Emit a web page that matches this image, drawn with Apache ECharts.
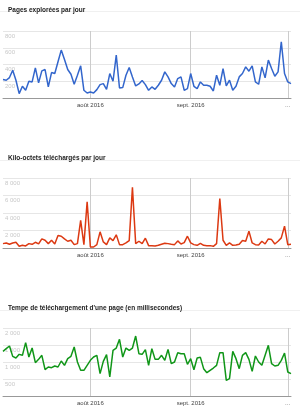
<!DOCTYPE html>
<html>
<head>
<meta charset="utf-8">
<script src="https://cdn.jsdelivr.net/npm/echarts@6/dist/echarts.min.js"></script>
<style>
  html, body { margin: 0; padding: 0; background: #fff; }
  #main { width: 300px; height: 417px; }
</style>
</head>
<body>
<div id="main"></div>
<script>
// daily points, 5 juil. 2016 -> 2 oct. 2016
const startDay = new Date(2016, 6, 5)
const days = []
for (let i = 0; i < 90; i++) {
  const d = new Date(startDay)
  d.setDate(d.getDate() + i)
  days.push(d.toISOString().slice(0, 10))
}

// month marks (index in days -> label)
const monthMarks = { 27: 'août 2016', 58: 'sept. 2016', 88: '…' }

const titles = [
  'Pages explorées par jour',
  'Kilo-octets téléchargés par jour',
  "Tempe de téléchargement d'une page (en millisecondes)"
]

const pagesPerDay = [
  220, 212, 244, 332, 212, 52, 140, 92, 200, 192, 360, 180, 324, 340, 132, 304,
  292, 432, 572, 460, 340, 284, 164, 272, 384, 92, 60, 72, 60, 100, 160, 172,
  104, 292, 200, 512, 120, 124, 272, 364, 252, 144, 168, 208, 160, 92,
  132, 104, 152, 212, 312, 252, 172, 132, 232, 252, 92, 112, 292, 140, 112, 192,
  152, 152, 140, 84, 272, 152, 352, 144, 212, 92, 140, 252, 292, 372, 320, 384,
  192, 164, 372, 240, 452, 352, 260, 312, 672, 292, 192, 172
]

const kbPerDay = [
  500, 578, 424, 578, 655, 193, 308, 231, 500, 424, 655, 462, 1040, 886, 500, 886,
  462, 1425, 1348, 1040, 770, 886, 385, 500, 3157, 385, 5275, 116, 116, 385, 1848, 693,
  385, 1155, 847, 1502, 385, 385, 578, 847, 6930, 500, 770, 500, 1117, 270,
  270, 231, 308, 424, 539, 500, 424, 385, 809, 462, 616, 1348, 578, 385, 308, 539,
  308, 270, 270, 193, 500, 5660, 886, 308, 578, 308, 347, 424, 847, 770, 1925, 578,
  385, 347, 770, 462, 1040, 963, 462, 770, 1155, 2503, 385, 424
]

const loadTimeMs = [
  1313, 1392, 1470, 1166, 1117, 1225, 1196, 1568, 1147, 1411, 980, 1078, 1196, 774, 853, 833,
  882, 853, 1029, 902, 1098, 1166, 1441, 1000, 755, 755, 902, 1049, 1147, 1196, 657, 1019,
  1215, 559, 1343, 1411, 1666, 1147, 1411, 1343, 1411, 1764, 1245, 1225, 1362, 902,
  1392, 1078, 1078, 1196, 1049, 1372, 951, 1000, 1274, 1245, 1245, 931, 1098, 774, 1117, 1137,
  804, 686, 755, 823, 902, 1274, 1274, 461, 510, 1313, 1098, 804, 1196, 1274, 1078, 725,
  1176, 1000, 902, 1196, 1490, 951, 882, 902, 1049, 1264, 706, 657
]

const seriesData = [pagesPerDay, kbPerDay, loadTimeMs]
const colors = ['#3366cc', '#dc3912', '#109618']
const yMax = [800, 8000, 2000]
const yStep = [200, 2000, 500]

// layout of the three panels
const gridTops = [31, 178, 328]
const gridHeights = [67, 70, 68]
const titleTops = [1.5, 149.5, 299.5]
const ruleY = [11.5, 160.5, 310.5]

const fmtNum = v => String(v).replace(/\B(?=(\d{3})+(?!\d))/g, ' ')
const isMark = idx => monthMarks[idx] !== undefined

const option = {
  animation: false,
  title: titles.map((t, i) => ({
    text: t,
    left: 3,
    top: titleTops[i],
    textStyle: { fontFamily: 'Liberation Sans, Arial', fontSize: 6.5, fontWeight: 'bold', color: '#222' }
  })),
  graphic: ruleY.map(y => ({
    type: 'line',
    shape: { x1: 0, y1: y, x2: 300, y2: y },
    style: { stroke: '#f0f0f0', lineWidth: 1 }
  })),
  grid: gridTops.map((top, i) => ({
    left: 3, width: 288, top: top, height: gridHeights[i]
  })),
  xAxis: [0, 1, 2].map(i => ({
    type: 'category',
    gridIndex: i,
    data: days,
    boundaryGap: false,
    axisLine: { lineStyle: { color: '#999', width: 1 } },
    axisTick: { show: false },
    axisLabel: {
      interval: isMark,
      formatter: (v, idx) => monthMarks[idx] || '',
      fontFamily: 'Liberation Sans, Arial',
      fontSize: 6,
      color: '#444',
      margin: 4
    },
    splitLine: { show: true, interval: isMark, lineStyle: { color: '#cccccc', width: 1 } }
  })),
  yAxis: [0, 1, 2].map(i => ({
    type: 'value',
    gridIndex: i,
    min: 0,
    max: yMax[i],
    interval: yStep[i],
    axisLine: { show: false },
    axisTick: { show: false },
    splitLine: { lineStyle: { color: '#e6e6e6', width: 1 } },
    axisLabel: {
      inside: true,
      showMinLabel: false,
      verticalAlign: 'top',
      align: 'left',
      padding: [2, 0, 0, 0],
      margin: 2,
      fontFamily: 'Liberation Sans, Arial',
      fontSize: 6,
      color: '#c8c8c8',
      formatter: fmtNum
    }
  })),
  series: seriesData.map((data, i) => ({
    type: 'line',
    xAxisIndex: i,
    yAxisIndex: i,
    data: data,
    symbol: 'none',
    lineStyle: { color: colors[i], width: 1.5 }
  }))
}

const myChart = echarts.init(document.getElementById('main'))
myChart.setOption(option)
</script>
</body>
</html>
